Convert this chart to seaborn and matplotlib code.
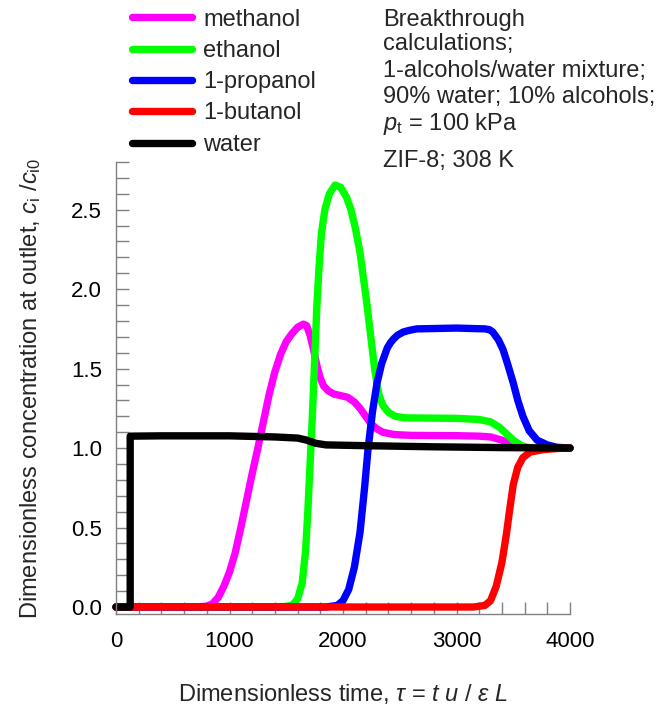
import numpy as np
import pandas as pd
import matplotlib
matplotlib.use("Agg")
import matplotlib.pyplot as plt
from matplotlib.ticker import MultipleLocator, FormatStrFormatter
import seaborn as sns

# Breakthrough curves: dimensionless time tau vs. c_i/c_i0
components = ["methanol", "ethanol", "1-propanol", "1-butanol", "water"]
colors = ["#FF00FF", "#00FF00", "#0000FF", "#FF0000", "#000000"]

methanol_tau = [0, 700, 800, 850, 900, 950, 1000, 1050, 1100, 1150, 1200, 1250, 1300,
                1350, 1400, 1450, 1500, 1550, 1600, 1650, 1680, 1710, 1740, 1770,
                1800, 1830, 1870, 1920, 1980, 2040, 2100, 2150, 2200, 2250, 2300,
                2350, 2450, 2600, 3000, 3200, 3300, 3400, 3450, 3500, 3560, 3650, 4000]
methanol_c = [0, 0, 0.005, 0.02, 0.06, 0.13, 0.22, 0.34, 0.50, 0.67, 0.84, 1.0, 1.17,
              1.34, 1.48, 1.59, 1.67, 1.72, 1.76, 1.78, 1.77, 1.71, 1.62, 1.52,
              1.44, 1.39, 1.36, 1.34, 1.33, 1.32, 1.29, 1.25, 1.20, 1.15, 1.12,
              1.10, 1.085, 1.08, 1.078, 1.075, 1.07, 1.05, 1.035, 1.02, 1.008, 1.0, 1.0]

ethanol_tau = [0, 1450, 1550, 1600, 1640, 1670, 1690, 1710, 1730, 1750, 1770, 1790,
               1810, 1840, 1880, 1930, 1980, 2030, 2070, 2110, 2150, 2180, 2210,
               2245, 2280, 2315, 2350, 2400, 2460, 2550, 3000, 3200, 3300, 3380,
               3440, 3500, 3560, 3620, 3700, 4000]
ethanol_c = [0, 0, 0.01, 0.05, 0.15, 0.35, 0.6, 0.9, 1.2, 1.55, 1.9, 2.15,
             2.35, 2.5, 2.6, 2.655, 2.64, 2.58, 2.5, 2.38, 2.23, 2.07, 1.91,
             1.70, 1.49, 1.34, 1.27, 1.225, 1.20, 1.19, 1.187, 1.18, 1.165, 1.13,
             1.09, 1.05, 1.02, 1.005, 1.0, 1.0]

propanol_tau = [0, 1850, 1950, 2000, 2050, 2100, 2150, 2190, 2220, 2260, 2300, 2340,
                2390, 2420, 2450, 2480, 2530, 2580, 2650, 3000, 3250, 3290, 3320,
                3370, 3410, 3450, 3500, 3540, 3585, 3640, 3710, 3800, 3885, 4000]
propanol_c = [0, 0, 0.01, 0.04, 0.11, 0.25, 0.47, 0.75, 0.99, 1.23, 1.41, 1.53,
              1.63, 1.665, 1.69, 1.71, 1.73, 1.74, 1.75, 1.755, 1.75, 1.745, 1.73,
              1.68, 1.62, 1.53, 1.41, 1.30, 1.20, 1.11, 1.05, 1.02, 1.005, 1.0]

butanol_tau = [0, 3150, 3250, 3300, 3350, 3400, 3440, 3470, 3500, 3540, 3585, 3650,
               3760, 3900, 4000]
butanol_c = [0, 0, 0.01, 0.04, 0.13, 0.28, 0.46, 0.62, 0.77, 0.88, 0.94, 0.975,
             0.99, 0.998, 1.0]

water_tau = [0, 125, 125, 400, 1000, 1400, 1600, 1680, 1760, 1850, 2200, 2800, 3400, 4000]
water_c = [0, 0, 1.075, 1.077, 1.077, 1.07, 1.063, 1.05, 1.03, 1.02, 1.015, 1.008, 1.003, 1.0]

x_ticks = [0, 1000, 2000, 3000, 4000]
y_ticks = [0.0, 0.5, 1.0, 1.5, 2.0, 2.5]

series = {
    "methanol": (methanol_tau, methanol_c),
    "ethanol": (ethanol_tau, ethanol_c),
    "1-propanol": (propanol_tau, propanol_c),
    "1-butanol": (butanol_tau, butanol_c),
    "water": (water_tau, water_c),
}
frames = []
for name in components:
    t, c = series[name]
    frames.append(pd.DataFrame({"tau": t, "c": c, "component": name}))
df = pd.concat(frames, ignore_index=True)

sns.set_style("ticks")
plt.rcParams["font.family"] = ["Liberation Sans", "DejaVu Sans"]
plt.rcParams["mathtext.fontset"] = "custom"
plt.rcParams["mathtext.rm"] = "Liberation Sans"
plt.rcParams["mathtext.it"] = "Liberation Sans:italic"
plt.rcParams["mathtext.bf"] = "Liberation Sans:bold"

W, H = 661, 709
LW = 5.3
TXT = 17
fig = plt.figure(figsize=(W / 100, H / 100), dpi=100)
ax = fig.add_axes([116 / W, 1 - 614 / H, (570 - 116) / W, (614 - 162) / H])

sns.lineplot(data=df, x="tau", y="c", hue="component", hue_order=components,
             palette=dict(zip(components, colors)), estimator=None, sort=False,
             linewidth=LW, solid_capstyle="round", solid_joinstyle="round",
             ax=ax, clip_on=False)

ax.set_xlim(0, 4000)
ax.set_ylim(-0.044, 2.8)
ax.set_xticks(x_ticks)
ax.set_yticks(y_ticks)
ax.xaxis.set_minor_locator(MultipleLocator(200))
ax.yaxis.set_minor_locator(MultipleLocator(0.1))
ax.yaxis.set_major_formatter(FormatStrFormatter("%.1f"))

grey = "#808080"
for side in ["top", "right"]:
    ax.spines[side].set_visible(False)
for side in ["left", "bottom"]:
    ax.spines[side].set_color(grey)
    ax.spines[side].set_linewidth(1.0)
ax.tick_params(which="both", direction="in", length=9, width=1, color=grey,
               labelsize=16, labelcolor="black", bottom=True, left=True,
               top=False, right=False)
ax.tick_params(axis="x", which="both", pad=12)
ax.tick_params(axis="y", which="both", pad=10)

ax.set_xlabel(r"Dimensionless time, $\tau$ = $t$ $u$ / $\varepsilon$ $L$",
              fontsize=TXT, labelpad=22)
ax.set_ylabel(r"Dimensionless concentration at outlet, $c_\mathrm{i}$ /$c_\mathrm{i0}$",
              fontsize=TXT, labelpad=20)

# legend in the top-left margin
old = ax.get_legend()
handles = old.legend_handles
labels = [t.get_text() for t in old.get_texts()]
old.remove()
leg = ax.legend(handles, labels, loc="upper left",
                bbox_to_anchor=(132 / W, 1 - 8.5 / H), bbox_transform=fig.transFigure,
                frameon=False, fontsize=TXT, borderpad=0, borderaxespad=0,
                handlelength=2.54, handletextpad=0.47, labelspacing=0.395)
for h in leg.legend_handles:
    h.set_linewidth(LW)
    h.set_solid_capstyle("round")

# condition notes, top right
notes = [
    ("Breakthrough", 26),
    ("calculations;", 50),
    ("1-alcohols/water mixture;", 77),
    ("90% water; 10% alcohols;", 103),
    (r"$p_\mathrm{t}$ = 100 kPa", 130),
    ("ZIF-8; 308 K", 167),
]
for txt, base in notes:
    fig.text(383 / W, 1 - base / H, txt, fontsize=TXT, ha="left", va="baseline")

fig.savefig("out.png", dpi=100)
